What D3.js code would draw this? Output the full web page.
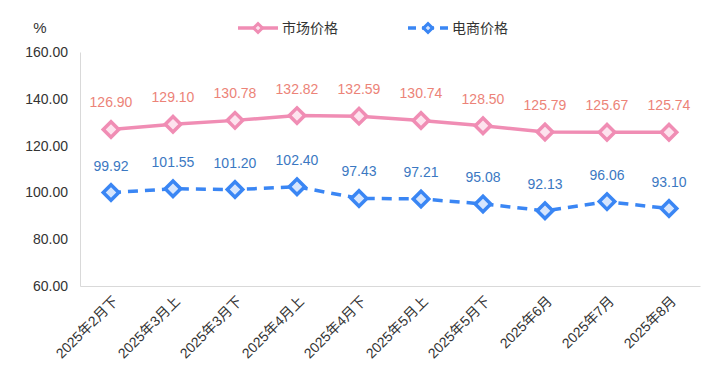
<!DOCTYPE html>
<html>
<head>
<meta charset="utf-8">
<script src="https://cdn.jsdelivr.net/npm/d3@7"></script>
<style>
  body { margin: 0; background: #fff; }
  text { font-family: "Liberation Sans", Arial, "Noto Sans CJK SC", sans-serif; }
</style>
</head>
<body>
<div id="chart"></div>
<script>
var categories = ["2025年2月下", "2025年3月上", "2025年3月下", "2025年4月上", "2025年4月下",
    "2025年5月上", "2025年5月下", "2025年6月", "2025年7月", "2025年8月"]
var marketPrice = [126.90, 129.10, 130.78, 132.82, 132.59, 130.74, 128.50, 125.79, 125.67, 125.74]
var onlinePrice = [99.92, 101.55, 101.20, 102.40, 97.43, 97.21, 95.08, 92.13, 96.06, 93.10]
var yTicks = [60, 80, 100, 120, 140, 160]
var seriesNames = ["市场价格", "电商价格"]

var width = 716, height = 382
var margin = {top: 52, right: 16, bottom: 96, left: 80}

var svg = d3.select("#chart").append("svg")
    .attr("width", width)
    .attr("height", height)

var x = d3.scaleBand()
    .domain(categories)
    .range([margin.left, width - margin.right])

var y = d3.scaleLinear()
    .domain([60, 160])
    .range([height - margin.bottom, margin.top])

// axes
var yAxis = svg.append("g")
    .attr("transform", "translate(" + margin.left + ",0)")
    .call(d3.axisLeft(y).tickValues(yTicks).tickSize(0).tickPadding(12).tickFormat(d3.format(".2f")))
yAxis.select(".domain").attr("stroke", "#d9d9d9")
yAxis.selectAll("text").attr("font-size", 14).attr("fill", "#333")

var xAxis = svg.append("g")
    .attr("transform", "translate(0," + (height - margin.bottom) + ")")
    .call(d3.axisBottom(x).tickSize(0).tickPadding(0))
xAxis.select(".domain").attr("stroke", "#d9d9d9")
xAxis.selectAll("text")
    .attr("font-size", 14)
    .attr("fill", "#333")
    .attr("text-anchor", "end")
    .attr("dy", 0)
    .attr("transform", "translate(8,16) rotate(-45)")

svg.append("text")
    .attr("x", 40).attr("y", 33)
    .attr("text-anchor", "middle")
    .attr("font-size", 15)
    .attr("fill", "#333")
    .text("%")

var cx = d => x(d) + x.bandwidth() / 2
var diamond = d3.symbol().type(d3.symbolSquare).size(120)

var series = [
    {name: seriesNames[0], values: marketPrice, color: "#f08db4", fill: "#fde3ee", label: "#ec8378", dash: null},
    {name: seriesNames[1], values: onlinePrice, color: "#3a86f4", fill: "#d6e5fd", label: "#3b78c2", dash: "10,7"}
]

series.forEach(s => {
    var line = d3.line()
        .x((d, i) => cx(categories[i]))
        .y(d => y(d))
    svg.append("path")
        .datum(s.values)
        .attr("fill", "none")
        .attr("stroke", s.color)
        .attr("stroke-width", 3.5)
        .attr("stroke-dasharray", s.dash)
        .attr("d", line)

    svg.selectAll(null)
        .data(s.values)
        .enter()
        .append("path")
        .attr("d", diamond)
        .attr("transform", (d, i) => "translate(" + cx(categories[i]) + "," + y(d) + ") rotate(45)")
        .attr("fill", s.fill)
        .attr("stroke", s.color)
        .attr("stroke-width", 3.5)

    svg.selectAll(null)
        .data(s.values)
        .enter()
        .append("text")
        .attr("x", (d, i) => cx(categories[i]))
        .attr("y", d => y(d) - 22)
        .attr("text-anchor", "middle")
        .attr("font-size", 14)
        .attr("fill", s.label)
        .text(d => d.toFixed(2))
})

// legend
var legend = svg.append("g")
var legendX = [238, 408]
series.forEach((s, i) => {
    var g = legend.append("g").attr("transform", "translate(" + legendX[i] + ",28)")
    g.append("line")
        .attr("x1", 0).attr("x2", 40)
        .attr("stroke", s.color)
        .attr("stroke-width", 3.5)
        .attr("stroke-dasharray", s.dash ? "8,6,12,6,8" : null)
    g.append("path")
        .attr("d", d3.symbol().type(d3.symbolSquare).size(40))
        .attr("transform", "translate(20,0) rotate(45)")
        .attr("fill", s.fill)
        .attr("stroke", s.color)
        .attr("stroke-width", 3)
    g.append("text")
        .attr("x", 44).attr("y", 5)
        .attr("font-size", 14)
        .attr("fill", "#333")
        .style("font-family", "'Noto Sans CJK SC', sans-serif")
        .text(s.name)
})
</script>
</body>
</html>
